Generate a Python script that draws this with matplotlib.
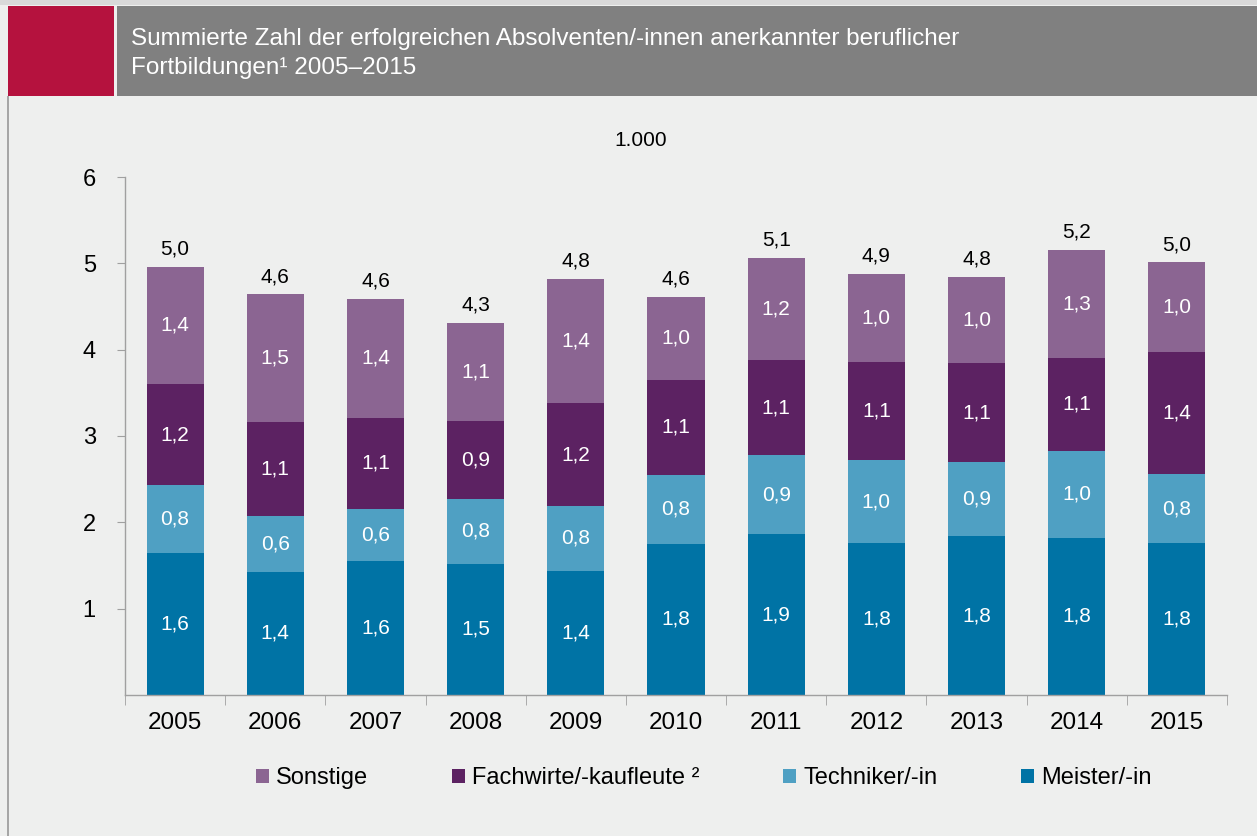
import matplotlib
matplotlib.use("Agg")
import matplotlib.pyplot as plt
from matplotlib.patches import Rectangle, Patch
import numpy as np

plt.rcParams['font.family'] = ['Liberation Sans', 'DejaVu Sans']

years = ["2005", "2006", "2007", "2008", "2009", "2010", "2011", "2012", "2013", "2014", "2015"]
meister = [1.64, 1.43, 1.55, 1.52, 1.44, 1.75, 1.86, 1.76, 1.84, 1.82, 1.76]
techniker = [0.79, 0.64, 0.61, 0.75, 0.75, 0.80, 0.92, 0.96, 0.86, 1.01, 0.80]
fachwirte = [1.17, 1.09, 1.05, 0.90, 1.19, 1.10, 1.10, 1.14, 1.14, 1.07, 1.41]
sonstige = [1.36, 1.48, 1.38, 1.14, 1.44, 0.96, 1.18, 1.02, 1.00, 1.26, 1.04]

series_names = ["Meister/-in", "Techniker/-in", "Fachwirte/-kaufleute ²", "Sonstige"]
series_vals = [meister, techniker, fachwirte, sonstige]
colors = ["#0073A5", "#4FA0C3", "#5C2262", "#8B6592"]

title_lines = ["Summierte Zahl der erfolgreichen Absolventen/-innen anerkannter beruflicher",
               "Fortbildungen¹ 2005–2015"]
unit_label = "1.000"

bg = "#EEEFEE"
fig = plt.figure(figsize=(12.57, 8.36), dpi=100, facecolor=bg)

W, H = 1257, 836
def fx(px): return px / W
def fy(py): return 1 - py / H

# header
fig.patches.append(Rectangle((fx(0), fy(5)), 1, fy(0) - fy(5), transform=fig.transFigure,
                             facecolor="#D9D9D9", edgecolor="none", zorder=0))
fig.patches.append(Rectangle((fx(8), fy(96)), fx(114) - fx(8), fy(6) - fy(96), transform=fig.transFigure,
                             facecolor="#B5123E", edgecolor="none", zorder=1))
fig.patches.append(Rectangle((fx(117), fy(96)), 1 - fx(117), fy(6) - fy(96), transform=fig.transFigure,
                             facecolor="#808080", edgecolor="none", zorder=1))
fig.patches.append(Rectangle((fx(7), 0), fx(2), fy(96), transform=fig.transFigure,
                             facecolor="#A6A6A6", edgecolor="none", zorder=1))
fig.text(fx(131), fy(39), title_lines[0], color="white", fontsize=17.5, ha="left", va="center", zorder=2)
fig.text(fx(131), fy(68), title_lines[1], color="white", fontsize=17.5, ha="left", va="center", zorder=2)

ax = fig.add_axes([fx(125), fy(695), fx(1227) - fx(125), fy(177) - fy(695)])
ax.set_facecolor(bg)
x = np.arange(len(years))
bottom = np.zeros(len(years))
handles = []
for name, vals, c in zip(series_names, series_vals, colors):
    vals = np.array(vals)
    ax.bar(x, vals, width=0.57, bottom=bottom, color=c, edgecolor="none", zorder=2)
    for xi, b, v in zip(x, bottom, vals):
        ax.text(xi, b + v / 2, f"{v:.1f}".replace(".", ","), ha="center", va="center",
                color="white", fontsize=15, zorder=3)
    bottom = bottom + vals
    handles.append(Patch(facecolor=c, label=name))

for xi, t in zip(x, bottom):
    ax.annotate(f"{t:.1f}".replace(".", ","), (xi, t), xytext=(0, 6), textcoords="offset points",
                ha="center", va="bottom", fontsize=15, color="black")

ax.set_xlim(-0.5, len(years) - 0.5)
ax.set_ylim(0, 6)
ax.set_yticks([1, 2, 3, 4, 5, 6])
ax.set_yticklabels(["1", "2", "3", "4", "5", "6"])
ax.set_xticks(x)
ax.set_xticklabels(years)
ax.set_xticks(np.arange(-0.5, len(years)), minor=True)
ax.tick_params(axis="x", which="major", length=0, labelsize=17.5, pad=12)
ax.tick_params(axis="x", which="minor", length=7, color="#A0A0A0", direction="out")
ax.tick_params(axis="y", length=6, color="#A0A0A0", labelsize=17, pad=15)
for s in ["top", "right"]:
    ax.spines[s].set_visible(False)
for s in ["left", "bottom"]:
    ax.spines[s].set_color("#A0A0A0")
    ax.spines[s].set_linewidth(1)

fig.text(fx(641), fy(140), unit_label, fontsize=15, ha="center", va="center")

leg = fig.legend(handles=handles[::-1], loc="center", bbox_to_anchor=(fx(704), fy(778)),
                 ncol=4, frameon=False, fontsize=17, handlelength=0.55, handleheight=0.55,
                 handletextpad=0.3, columnspacing=3.55)

fig.savefig("out.png", dpi=100, facecolor=bg)
